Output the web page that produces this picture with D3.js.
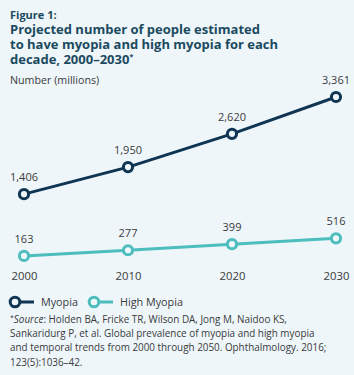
<!DOCTYPE html>
<html>
<head>
<meta charset="utf-8">
<script src="https://cdn.jsdelivr.net/npm/d3@7"></script>
<style>
  body { margin: 0; background: #eef6fa; }
  svg { display: block; font-family: "Open Sans", sans-serif; }
</style>
</head>
<body>
<div id="chart"></div>
<script>
// data
var years = [2000, 2010, 2020, 2030];
var myopia = [1406, 1950, 2620, 3361];
var highMyopia = [163, 277, 399, 516];
var seriesNames = ["Myopia", "High Myopia"];
var titleLines = [
    "Projected number of people estimated",
    "to have myopia and high myopia for each",
    "decade, 2000\u20132030"
];
var sourceLines = [
    "Holden BA, Fricke TR, Wilson DA, Jong M, Naidoo KS,",
    "Sankaridurg P, et al. Global prevalence of myopia and high myopia",
    "and temporal trends from 2000 through 2050. Ophthalmology. 2016;",
    "123(5):1036\u201342."
];

var width = 354, height = 375;
var navy = "#0f3553", teal = "#4dbdbd", textCol = "#3a3a3a", titleCol = "#1b4a5f";
var bg = "#eef6fa";

var svg = d3.select("#chart").append("svg")
    .attr("width", width)
    .attr("height", height);

svg.append("rect")
    .attr("width", width)
    .attr("height", height)
    .attr("fill", bg);

// titles
svg.append("text")
    .attr("x", 10)
    .attr("y", 18.5)
    .attr("fill", titleCol)
    .attr("font-size", 11)
    .attr("font-weight", 700)
    .text("Figure 1:");

var title = svg.append("text")
    .attr("fill", titleCol)
    .attr("font-size", 13)
    .attr("font-weight", 700);
titleLines.forEach(function(t, i) {
    var ts = title.append("tspan")
        .attr("x", 10)
        .attr("y", 33.7 + i * 15.3)
        .text(t);
    if (i == titleLines.length - 1) {
        ts.append("tspan")
            .attr("font-size", 7)
            .attr("dy", -5)
            .text("*");
    }
});

svg.append("text")
    .attr("x", 10)
    .attr("y", 84)
    .attr("fill", textCol)
    .attr("font-size", 10.7)
    .text("Number (millions)");

// scales
var x = d3.scalePoint()
    .domain(years)
    .range([24, 336]);

var y = d3.scaleLinear()
    .domain([0, 3361])
    .range([264, 97]);

var xAxis = d3.axisBottom(x).tickSize(0).tickPadding(0);
svg.append("g")
    .attr("transform", "translate(0,272)")
    .call(xAxis)
    .call(function(g) { g.select(".domain").remove(); })
    .selectAll("text")
    .attr("fill", textCol)
    .attr("font-size", 11.3)
    .attr("font-family", "Open Sans, sans-serif");

var line = d3.line()
    .x(function(d, i) { return x(years[i]); })
    .y(function(d) { return y(d); });

function drawSeries(data, color) {
    svg.append("path")
        .datum(data)
        .attr("fill", "none")
        .attr("stroke", color)
        .attr("stroke-width", 3)
        .attr("d", line);

    svg.selectAll(null)
        .data(data)
        .enter().append("circle")
        .attr("cx", function(d, i) { return x(years[i]); })
        .attr("cy", function(d) { return y(d); })
        .attr("r", 4.6)
        .attr("fill", bg)
        .attr("stroke", color)
        .attr("stroke-width", 3);

    svg.selectAll(null)
        .data(data)
        .enter().append("text")
        .attr("x", function(d, i) { return x(years[i]); })
        .attr("y", function(d) { return y(d) - 13; })
        .attr("text-anchor", "middle")
        .attr("fill", textCol)
        .attr("font-size", 11)
        .text(function(d) { return d3.format(",")(d); });
}

drawSeries(myopia, navy);
drawSeries(highMyopia, teal);

// legend
var legend = svg.append("g")
    .attr("transform", "translate(0,302)");
var legendX = [15, 94];
[navy, teal].forEach(function(c, i) {
    var g = legend.append("g")
        .attr("transform", "translate(" + legendX[i] + ",0)");
    g.append("line")
        .attr("x1", 0)
        .attr("x2", 19)
        .attr("stroke", c)
        .attr("stroke-width", 3);
    g.append("circle")
        .attr("r", 4.8)
        .attr("fill", bg)
        .attr("stroke", c)
        .attr("stroke-width", 3);
    g.append("text")
        .attr("x", 26)
        .attr("y", 4)
        .attr("fill", textCol)
        .attr("font-size", 10.8)
        .text(seriesNames[i]);
});

// source
var src = svg.append("text")
    .attr("fill", textCol)
    .attr("font-size", 9.9);
sourceLines.forEach(function(t, i) {
    var ts = src.append("tspan")
        .attr("x", 10)
        .attr("y", 323 + i * 14.2);
    if (i == 0) {
        ts.append("tspan").attr("font-size", 7).attr("dy", -3).text("*");
        ts.append("tspan").attr("font-style", "italic").attr("dy", 3).text("Source");
        ts.append("tspan").text(": " + t);
    } else {
        ts.text(t);
    }
});
</script>
</body>
</html>
